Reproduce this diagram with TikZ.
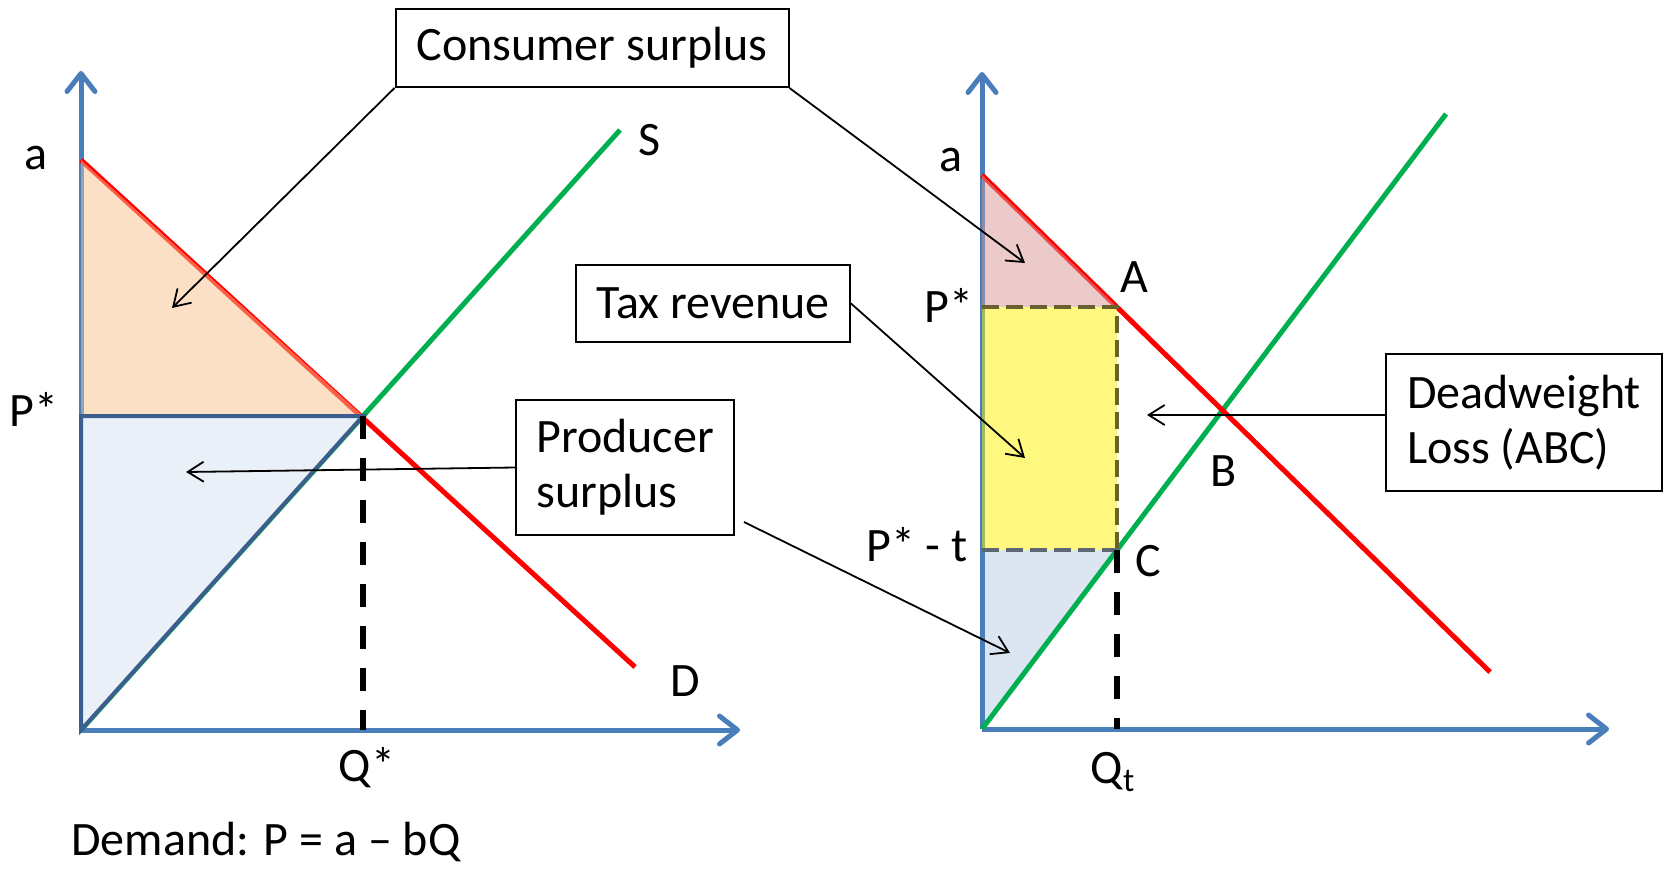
\documentclass[tikz,border=0pt]{standalone}
\usepackage{fontspec}
\setmainfont{Carlito}
\usepackage{tikz}
\usetikzlibrary{arrows.meta,positioning,calc}
\definecolor{axisblue}{HTML}{4A7EBB}
\definecolor{supgreen}{HTML}{00B050}
\definecolor{csorange}{HTML}{F7C18E}
\definecolor{cspink}{HTML}{D99694}
\definecolor{psblue}{HTML}{EAF0F8}
\definecolor{psblueb}{HTML}{B9CDE5}
\definecolor{psedge}{HTML}{3B5E8C}
\definecolor{taxedge}{HTML}{6B6030}
\definecolor{taxedgeb}{HTML}{5D6675}

\begin{document}
\begin{tikzpicture}[x=0.5pt,y=-0.5pt,
    every node/.style={font=\fontsize{24}{27.5}\selectfont,inner sep=0pt},
    axis/.style={draw=axisblue,line width=2.5pt,-{Straight Barb[length=9pt,width=14pt,round]}},
    demand/.style={draw=red,line width=2.5pt},
    supply/.style={draw=supgreen,line width=2.5pt},
    qline/.style={draw=black,line width=3pt,dash pattern=on 11.5pt off 9.5pt},
    taxline/.style={line width=2pt,dash pattern=on 8.5pt off 3.5pt},
    note/.style={draw,line width=1pt,fill=white,align=left},
    pointer/.style={draw,line width=0.9pt,-{Straight Barb[length=8pt,width=10pt]}}]
  \useasboundingbox (0,0) rectangle (1669,868);

  % left graph
  \coordinate (O1) at (81,730);
  \coordinate (a1) at (81,160);
  \coordinate (E1) at (363,416);
  \coordinate (P1) at (81,416);
  \coordinate (Q1) at (363,730);
  \coordinate (S1) at (620,130);
  \coordinate (D1) at (635,667);
  \draw[axis] (O1) -- (81,71);
  \draw[axis] (O1) -- (740,730);
  \draw[supply] (O1) -- (S1);
  \draw[demand] (a1) -- (D1);
  \fill[csorange,fill opacity=0.5] (a1) -- (E1) -- (P1) -- cycle;
  \filldraw[fill=psblue,draw=psedge,line width=2pt] (P1) -- (E1) -- (O1) -- cycle;
  \draw[qline] (E1) -- (Q1);

  \node (la1) at (36,158) {a};
  \node (lp1) at (34,409) {P*};
  \node (ls1) at (650,140) {S};
  \node (ld1) at (685,681) {D};
  \node (lq1) at (367,768) {Q*};

  % right graph
  \coordinate (O2) at (982,729);
  \coordinate (a2) at (982,175);
  \coordinate (A) at (1117,307);
  \coordinate (C) at (1117,550);
  \coordinate (P2) at (982,307);
  \coordinate (T2) at (982,550);
  \coordinate (Q2) at (1117,729);
  \coordinate (S2) at (1446,114);
  \coordinate (D2) at (1490,672);
  \fill[psblueb,fill opacity=0.5] (T2) -- (C) -- (O2) -- cycle;
  \draw[axis] (O2) -- (982,72);
  \draw[axis] (O2) -- (1609,729);
  \draw[supply] (O2) -- (S2);
  \draw[demand] (a2) -- (D2);
  \fill[cspink,fill opacity=0.5] (a2) -- (A) -- (P2) -- cycle;
  \fill[yellow,fill opacity=0.5] (P2) rectangle (C);
  \draw[taxline,taxedge] (P2) -- (A) -- (C);
  \draw[taxline,taxedgeb] (T2) -- (C);
  \draw[qline] (C) -- (Q2);

  \node (la2) at (951,160) {a};
  \node (lp2) at (949,305) {P*};
  \node (lt2) at (917,545) {P* - t};
  \node (lA) at (1134,277) {A};
  \node (lB) at (1224,471) {B};
  \node (lC) at (1148,561) {C};
  \node (lq2) at (1113,772) {Q\textsubscript{t}};

  % notes
  \node[note,minimum width=196.5pt,minimum height=39pt] (cs) at (592,48) {Consumer surplus};
  \node[note,minimum width=137pt,minimum height=38.5pt] (tax) at (713,303.5) {Tax revenue};
  \node[note,minimum width=109pt,minimum height=67.5pt] (ps) at (625,467.5) {Producer\\surplus};
  \node[note,minimum width=138pt,minimum height=68.5pt] (dwl) at (1524,422.5) {Deadweight\\Loss (ABC)};

  \coordinate (csL) at (172,308);
  \coordinate (csR) at (1025,263);
  \coordinate (taxT) at (1025,458);
  \coordinate (psL) at (186,472);
  \coordinate (psR) at (1010,653);
  \coordinate (dwlT) at (1147,415);
  \draw[pointer] (cs.south west) -- (csL);
  \draw[pointer] (cs.south east) -- (csR);
  \draw[pointer] (tax.east) -- (taxT);
  \draw[pointer] (ps.west) -- (psL);
  \draw[pointer] ([shift={(9,-14)}]ps.south east) -- (psR);
  \draw[pointer] (dwl.west |- dwlT) -- (dwlT);

  \node[anchor=west] (eq) at (71,842) {Demand: P = a – bQ};
\end{tikzpicture}
\end{document}
